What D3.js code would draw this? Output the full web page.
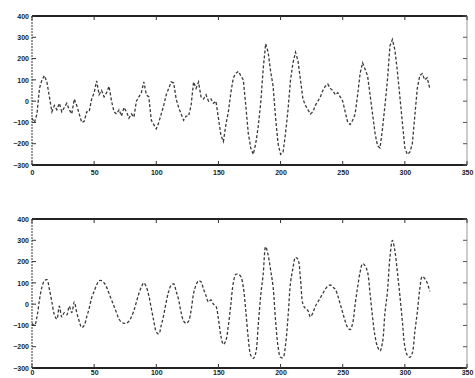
<!DOCTYPE html>
<html><head><meta charset="utf-8">
<script src="https://cdn.jsdelivr.net/npm/d3@7/dist/d3.min.js"></script>
<style>body{margin:0;background:#fff}svg{display:block}</style>
</head><body>
<svg id="c" width="475" height="378"></svg>
<script>
const sampleX = [0,2,4,6,8,10,12,14,16,18,20,22,24,26,28,30,32,34,36,38,40,42,44,46,48,50,52,54,56,58,60,62,64,66,68,70,72,74,76,78,80,82,84,86,88,90,92,94,96,98,100,102,104,106,108,110,112,114,116,118,120,122,124,126,128,130,132,134,136,138,140,142,144,146,148,150,152,154,156,158,160,162,164,166,168,170,172,174,176,178,180,182,184,186,188,190,192,194,196,198,200,202,204,206,208,210,212,214,216,218,220,222,224,226,228,230,232,234,236,238,240,242,244,246,248,250,252,254,256,258,260,262,264,266,268,270,272,274,276,278,280,282,284,286,288,290,292,294,296,298,300,302,304,306,308,310,312,314,316,318,320];
const topValues = [-80,-100,-60,60,100,120,90,20,-50,-20,-40,-10,-50,-30,-10,-40,-60,10,-20,-60,-100,-95,-50,-50,10,40,95,30,50,20,40,70,0,-50,-60,-40,-70,-30,-50,-80,-60,-75,0,20,40,90,30,20,-90,-110,-130,-100,-60,-20,30,60,90,85,10,-30,-60,-90,-70,-70,-20,90,60,90,20,10,30,0,10,-10,0,-80,-160,-190,-110,-50,40,110,130,140,120,100,-20,-150,-220,-250,-200,-120,-10,150,270,230,140,70,-80,-200,-250,-240,-150,-40,100,180,230,190,100,10,-20,-40,-60,-50,-20,0,20,50,70,80,60,50,30,40,20,0,-50,-100,-110,-90,-60,30,130,180,150,120,30,-60,-150,-210,-220,-130,-20,100,260,290,240,140,20,-100,-220,-250,-240,-200,-70,60,120,130,100,110,60];
const bottomValues = [-90,-100,-60,20,80,110,115,70,10,-50,-70,-10,-60,-40,-50,-10,-40,10,-40,-80,-110,-100,-60,-20,30,60,90,110,110,100,80,50,20,-10,-40,-70,-85,-90,-90,-80,-60,-30,10,50,80,100,80,40,-20,-80,-130,-140,-100,-50,10,60,90,95,60,20,-40,-80,-90,-80,-30,50,90,110,105,70,40,10,20,0,-10,-70,-150,-190,-170,-100,0,100,140,140,130,80,-30,-160,-240,-255,-230,-100,40,140,270,230,160,80,-80,-200,-250,-250,-190,-60,100,170,220,210,120,0,-20,-30,-60,-40,-10,10,30,50,70,85,90,80,70,40,0,-40,-80,-110,-120,-90,0,80,150,190,180,150,50,-60,-150,-200,-220,-180,-40,60,220,300,250,150,40,-80,-200,-240,-250,-230,-130,-40,70,130,120,100,60];
const xTicks = [0,50,100,150,200,250,300,350];
const yTicks = [400,300,200,100,0,-100,-200,-300];

const svg = d3.select("#c");
const X0 = 32, X1 = 467;
const panels = [
  {top:16, bottom:165, values: topValues, curve: d3.curveLinear, pad:5},
  {top:219, bottom:368, values: bottomValues, curve: d3.curveCatmullRom, pad:2}
];
const x = d3.scaleLinear().domain([0,350]).range([X0,X1]);

panels.forEach(p => {
  const y = d3.scaleLinear().domain([-300,400]).range([p.bottom,p.top]);
  const g = svg.append("g");
  g.append("line").attr("x1",X0).attr("x2",X1).attr("y1",p.top).attr("y2",p.top).attr("stroke","#222").attr("stroke-width",2);
  g.append("line").attr("x1",X0).attr("x2",X1).attr("y1",p.bottom).attr("y2",p.bottom).attr("stroke","#222").attr("stroke-width",2);
  g.append("line").attr("x1",X0).attr("x2",X0).attr("y1",p.top).attr("y2",p.bottom).attr("stroke","#555").attr("stroke-width",1.2).attr("stroke-dasharray","2,1");
  g.append("line").attr("x1",X1).attr("x2",X1).attr("y1",p.top).attr("y2",p.bottom).attr("stroke","#999").attr("stroke-width",1);
  const axB = d3.axisBottom(x).tickValues(xTicks).tickSize(0).tickPadding(p.pad).tickFormat(d3.format("d"));
  const gx = g.append("g").attr("transform",`translate(0,${p.bottom})`).call(axB);
  gx.select(".domain").remove();
  gx.selectAll("text").attr("font-family","Liberation Sans, Arial").attr("font-size",7).attr("font-weight","bold").attr("fill","#222");
  const axL = d3.axisLeft(y).tickValues(yTicks).tickSize(0).tickPadding(3).tickFormat(d3.format("d"));
  const gy = g.append("g").attr("transform",`translate(${X0},0)`).call(axL);
  gy.select(".domain").remove();
  gy.selectAll("text").attr("font-family","Liberation Sans, Arial").attr("font-size",7).attr("font-weight","bold").attr("fill","#222");
  xTicks.forEach(t => {
    g.append("line").attr("x1",x(t)).attr("x2",x(t)).attr("y1",p.bottom).attr("y2",p.bottom-4).attr("stroke","#333");
    g.append("line").attr("x1",x(t)).attr("x2",x(t)).attr("y1",p.top).attr("y2",p.top+4).attr("stroke","#333");
  });
  yTicks.forEach(t => {
    g.append("line").attr("x1",X0).attr("x2",X0+4).attr("y1",y(t)).attr("y2",y(t)).attr("stroke","#333");
    g.append("line").attr("x1",X1).attr("x2",X1-4).attr("y1",y(t)).attr("y2",y(t)).attr("stroke","#555");
  });
  const line = d3.line().x((d,i)=>x(sampleX[i])).y(d=>y(d)).curve(p.curve);
  g.append("path").datum(p.values).attr("d",line).attr("fill","none")
    .attr("stroke","#3a3a3a").attr("stroke-width",1.3).attr("stroke-dasharray","3,2");
});
</script>
</body></html>
